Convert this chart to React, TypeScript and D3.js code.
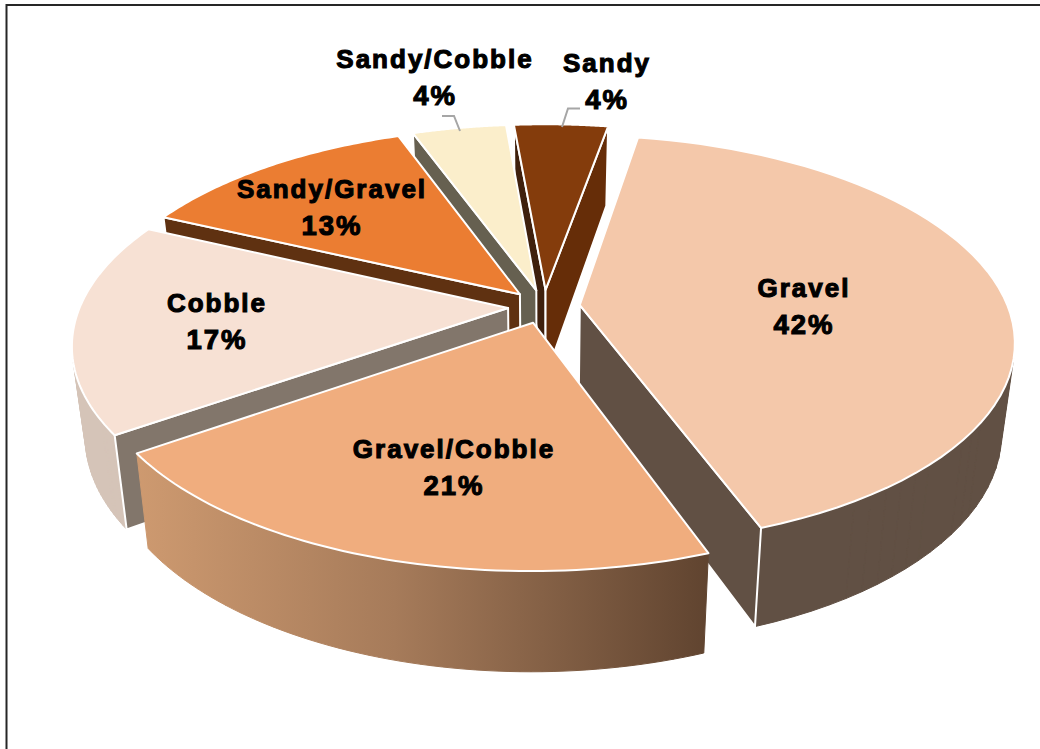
import React, { useMemo } from "react";
import * as d3 from "d3";

// Site counts per substrate class (share of 24 sites).
const categories = ["Gravel", "Gravel/Cobble", "Cobble", "Sandy/Gravel", "Sandy/Cobble", "Sandy"];
const siteCounts = [10, 5, 4, 3, 1, 1];

const topColors = ["#F4C8AA", "#F0AD7E", "#F7E1D4", "#EB7D32", "#FBEECB", "#843C0C"];
const outerWallColors = ["#615044", "url(#gravelCobbleWall)", "#D5C4B8", "#5F3111", "#666050", "#662D08"];
const cutStartColors = ["#615044", "#604430", "#82766B", "#5F3111", "#666050", "#3F200D"];
const cutEndColors = ["#615044", "#C4926A", "#82766B", "#5F3111", "#666050", "#662D08"];

// Painter's order: back slices first, the front slice last.
const drawOrder = [5, 4, 3, 2, 0, 1];

const labelCenters = [
  [804, 297],
  [454, 458],
  [217, 312],
  [332, 198],
  [435, 68],
  [607, 72],
];
const leaderElbows = [null, null, null, null, [[442, 116], [454, 116], [460, 131]], [[580, 108.5], [568, 108.5], [562, 127]]];

const WIDTH = 1040;
const HEIGHT = 749;
const CX = 544;
const CY = 306.5;
const RADIUS = 428;
const EXPLODE = 36;
const TILT = 0.466;
const PERSPECTIVE = 0.172;
const THICKNESS = 88;
const BASE_SHRINK = 0.972;

type Pt = [number, number];

// Perspective projection of a point on the pie plane (angle clockwise from the back).
function project(x: number, y: number, bottom: boolean): Pt {
  const w = 1 / (1 - (y / RADIUS) * PERSPECTIVE);
  const k = bottom ? BASE_SHRINK : 1;
  return [CX + x * w * k, CY + y * TILT * w * k + (bottom ? THICKNESS * w : 0)];
}

const toPath = d3.line<Pt>().x((d) => d[0]).y((d) => d[1]);

export default function App() {
  const slices = useMemo(() => {
    const arcs = d3
      .pie<number>()
      .sort(null)
      .startAngle((10 * Math.PI) / 180)
      .endAngle((370 * Math.PI) / 180)(siteCounts);
    const total = d3.sum(siteCounts);
    return arcs.map((a, i) => {
      const mid = (a.startAngle + a.endAngle) / 2;
      const ox = EXPLODE * Math.sin(mid);
      const oy = -EXPLODE * Math.cos(mid);
      const rimAngles = d3.range(0, 61).map((t) => a.startAngle + ((a.endAngle - a.startAngle) * t) / 60);
      const rimPlane = rimAngles.map((t) => [ox + RADIUS * Math.sin(t), oy - RADIUS * Math.cos(t)] as Pt);
      const rimTop = rimPlane.map((p) => project(p[0], p[1], false));
      const rimBottom = rimPlane.map((p) => project(p[0], p[1], true));
      const apexTop = project(ox, oy, false);
      const apexBottom = project(ox, oy, true);
      // The curved wall is swept quad by quad, keeping only quads that face the viewer,
      // so its silhouette follows the tangent of both rims.
      const outer = d3
        .range(0, 60)
        .map((t) => [rimTop[t], rimTop[t + 1], rimBottom[t + 1], rimBottom[t]] as Pt[])
        .filter((quad) => d3.polygonArea(quad) > 0)
        .map((quad) => toPath(quad)! + "Z")
        .join("");
      const startQuad: Pt[] = [apexTop, rimTop[0], rimBottom[0], apexBottom];
      const endQuad: Pt[] = [apexTop, rimTop[60], rimBottom[60], apexBottom];
      return {
        i,
        name: categories[i],
        pct: `${d3.format(".0f")((a.value / total) * 100)}%`,
        top: toPath([apexTop, ...rimTop])! + "Z",
        outer,
        // Cut faces are drawn only when they turn towards the viewer.
        cutStart: d3.polygonArea(startQuad) > 0 ? toPath(startQuad)! + "Z" : null,
        cutEnd: d3.polygonArea(endQuad) < 0 ? toPath(endQuad)! + "Z" : null,
      };
    });
  }, []);

  return (
    <svg
      width={WIDTH}
      height={HEIGHT}
      style={{ position: "absolute", left: 0, top: 0, display: "block", background: "#fff" }}
    >
      <defs>
        <linearGradient id="gravelCobbleWall" gradientUnits="userSpaceOnUse" x1={135} x2={712} y1={0} y2={0}>
          <stop offset="0" stopColor="#CE9A70" />
          <stop offset="0.45" stopColor="#A67B5A" />
          <stop offset="1" stopColor="#5F432F" />
        </linearGradient>
      </defs>
      <rect x={6.5} y={5} width={1200} height={1200} fill="#fff" stroke="#262626" strokeWidth={2} />
      {drawOrder.map((idx) => {
        const s = slices[idx];
        return (
          <g key={s.name} stroke="#fff" strokeWidth={2} strokeLinejoin="round">
            {s.outer && <path d={s.outer} fill={outerWallColors[idx]} stroke={outerWallColors[idx]} strokeWidth={1} />}
            {s.cutStart && <path d={s.cutStart} fill={cutStartColors[idx]} />}
            {s.cutEnd && <path d={s.cutEnd} fill={cutEndColors[idx]} />}
            <path d={s.top} fill={topColors[idx]} />
          </g>
        );
      })}
      {leaderElbows.map((pts, i) =>
        pts ? (
          <path key={i} d={toPath(pts as Pt[])!} fill="none" stroke="#A6A6A6" strokeWidth={2} />
        ) : null
      )}
      {slices.map((s) => {
        const [x, y] = labelCenters[s.i];
        return (
          <text
            key={s.name}
            textAnchor="middle"
            fontFamily="'Liberation Sans', Arial, sans-serif"
            fontWeight={700}
            fontSize={26}
            letterSpacing={2}
            fill="#000"
            stroke="#000"
            strokeWidth={1.1}
          >
            <tspan x={x} y={y}>{s.name}</tspan>
            <tspan x={x} y={y + 37} fontSize={27.5}>{s.pct}</tspan>
          </text>
        );
      })}
    </svg>
  );
}
